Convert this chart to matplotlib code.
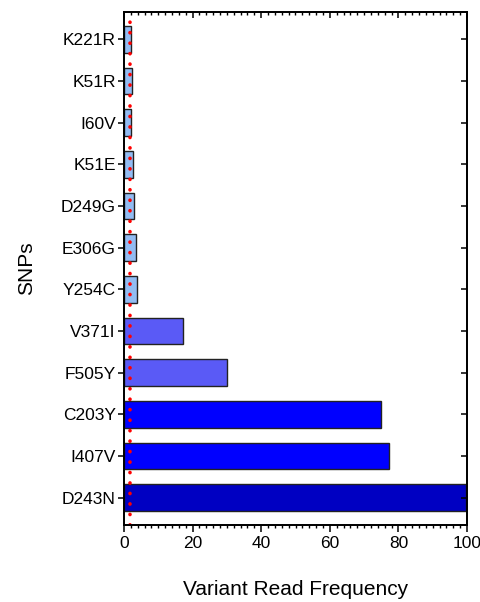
import matplotlib
matplotlib.use("Agg")
import matplotlib.pyplot as plt
from matplotlib.ticker import MultipleLocator

snps = ["K221R", "K51R", "I60V", "K51E", "D249G", "E306G", "Y254C",
        "V371I", "F505Y", "C203Y", "I407V", "D243N"]
freq = [2.0, 2.2, 2.0, 2.7, 3.0, 3.6, 3.9, 17.2, 30.0, 75.0, 77.2, 99.6]
threshold = 1.8

light = "#92BCF3"
medium = "#5A5AF6"
blue = "#0000FF"
dark = "#0000C2"
bar_colors = [light] * 7 + [medium] * 2 + [blue] * 2 + [dark]

plt.rcParams['font.family'] = ['Liberation Sans', 'DejaVu Sans']

fig = plt.figure(figsize=(4.81, 6.02), dpi=100)
ax = fig.add_axes([124 / 481, 1 - 525 / 602, 343 / 481, 513 / 602])

ypos = list(range(len(snps)))
ax.barh(ypos, freq, height=0.64, color=bar_colors, edgecolor="#222222",
        linewidth=1.0, zorder=2)
ax.axvline(threshold, color="#FF0000", linewidth=2.6,
           linestyle=(0, (0.05, 2.85)), dash_capstyle="round", zorder=5)

ax.set_xlim(0, 100)
ax.set_ylim(len(snps) - 1 + 0.66, -0.66)
ax.set_yticks(ypos)
ax.set_yticklabels(snps, fontsize=12.5)
ax.xaxis.set_major_locator(MultipleLocator(20))
ax.xaxis.set_minor_locator(MultipleLocator(2))
ax.tick_params(axis="x", labelsize=12.5)

for s in ax.spines.values():
    s.set_linewidth(1.1)

ax.tick_params(axis="y", which="major", left=True, right=False,
               direction="out", length=4, width=1.1, pad=2)
ax.tick_params(axis="x", which="major", bottom=True, top=False,
               direction="out", length=5, width=1.1, pad=3)
ax.tick_params(axis="x", which="minor", bottom=True, top=False,
               direction="out", length=2.5, width=1.0)

ax2 = ax.twiny()
ax2.set_xlim(ax.get_xlim())
ax2.xaxis.set_major_locator(MultipleLocator(20))
ax2.xaxis.set_minor_locator(MultipleLocator(2))
ax2.tick_params(axis="x", which="major", direction="in", length=4,
                width=1.1, labeltop=False, top=True)
ax2.tick_params(axis="x", which="minor", direction="in", length=2.5,
                width=1.0, top=True)

ax3 = ax.twinx()
ax3.set_ylim(ax.get_ylim())
ax3.set_yticks(ypos)
ax3.tick_params(axis="y", direction="in", length=4, width=1.1,
                labelright=False, right=True)
for a in (ax2, ax3):
    for s in a.spines.values():
        s.set_linewidth(1.1)

ax.set_xlabel("Variant Read Frequency", fontsize=15, labelpad=21)
ax.set_ylabel("SNPs", fontsize=15, labelpad=18)

fig.savefig("out.png", dpi=100)
